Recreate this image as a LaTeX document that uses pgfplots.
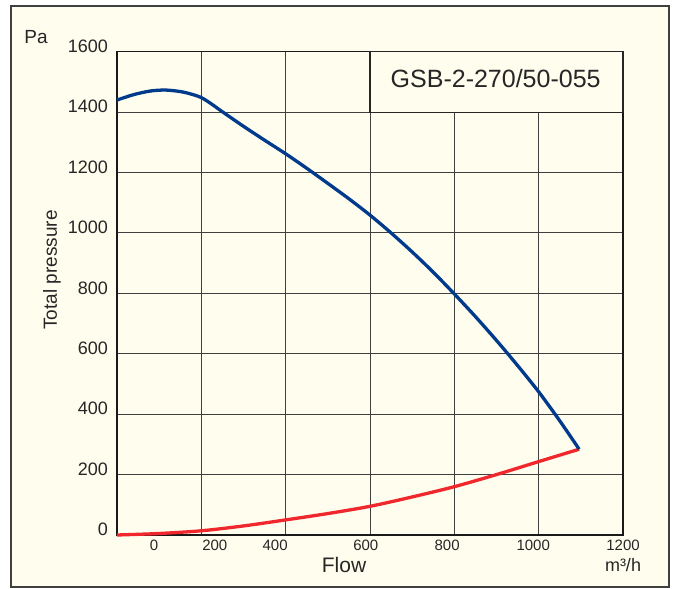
\documentclass[border=0pt]{standalone}
\usepackage{fontspec}
\setmainfont{Liberation Sans}
\usepackage{pgfplots}
\pgfplotsset{compat=1.18}
\definecolor{bgc}{RGB}{255,253,238}
\definecolor{fanblue}{RGB}{0,58,140}
\definecolor{fanred}{RGB}{240,40,45}
\begin{document}
\begin{tikzpicture}[x=1pt,y=1pt]
\fill[white] (0,0) rectangle (676,588);
\path[use as bounding box] (0,0) rectangle (676,588);
\draw[fill=bgc, draw=black!75, line width=1.5pt] (11,1) rectangle (669,582);
\begin{axis}[
  at={(117pt,53pt)}, anchor=south west,
  width=506pt, height=483.3pt, scale only axis,
  xmin=0, xmax=1200, ymin=0, ymax=1600,
  axis background/.style={fill=bgc},
  axis line style={line width=1.6pt, black!90},
  xtick={0,200,...,1200}, xticklabels={},
  ytick={0,200,...,1600},
  major tick length=0pt,
  grid=major,
  major grid style={line width=0.9pt, black!75},
  extra x ticks={87.7,232,375,590,783,987,1200},
  extra x tick labels={0,200,400,600,800,1000,1200},
  extra x tick style={grid=none, major tick length=0pt},
  /pgf/number format/assume math mode=true,
  /pgf/number format/1000 sep={},
  xticklabel style={font=\fontsize{15}{18}\selectfont, anchor=center, yshift=-10pt, text=black!85},
  yticklabel style={font=\fontsize{18}{20}\selectfont, anchor=east, inner sep=0pt, xshift=-9pt, yshift=5.5pt, text=black!85},
  clip=false,
]
\draw[fill=bgc, draw=black!85, line width=1.2pt] (axis cs:600,1400) rectangle (axis cs:1200,1600);
\node[font=\fontsize{25}{28}\selectfont, text=black!85] at (axis cs:898,1510) {GSB-2-270/50-055};
\addplot[color=fanred, line width=3.3pt, smooth] coordinates {
(0,0) (100,5) (200,14) (300,30) (400,50) (500,71) (600,95) (700,126) (800,160) (900,200) (1000,243) (1096,284)};
\addplot[color=fanblue, line width=3.3pt, smooth, tension=0.5] coordinates {
(0,1440) (40,1458) (80,1470) (115,1473) (150,1468) (175,1460) (200,1448) (225,1426) (250,1401) (300,1353) (350,1307) (400,1262) (450,1214) (500,1164) (550,1113) (600,1059) (650,1000) (700,937) (750,870) (800,798) (850,723) (900,644) (950,561) (1000,474) (1050,378) (1096,284)};
\end{axis}
\node[font=\fontsize{19}{22}\selectfont, text=black!85] at (36,551) {Pa};
\node[font=\fontsize{19}{22}\selectfont, text=black!85, rotate=90] at (52,318) {Total pressure};
\node[font=\fontsize{21}{24}\selectfont, text=black!85] at (344,23) {Flow};
\node[font=\fontsize{18}{21}\selectfont, text=black!85] at (623,23) {m³/h};
\end{tikzpicture}
\end{document}
